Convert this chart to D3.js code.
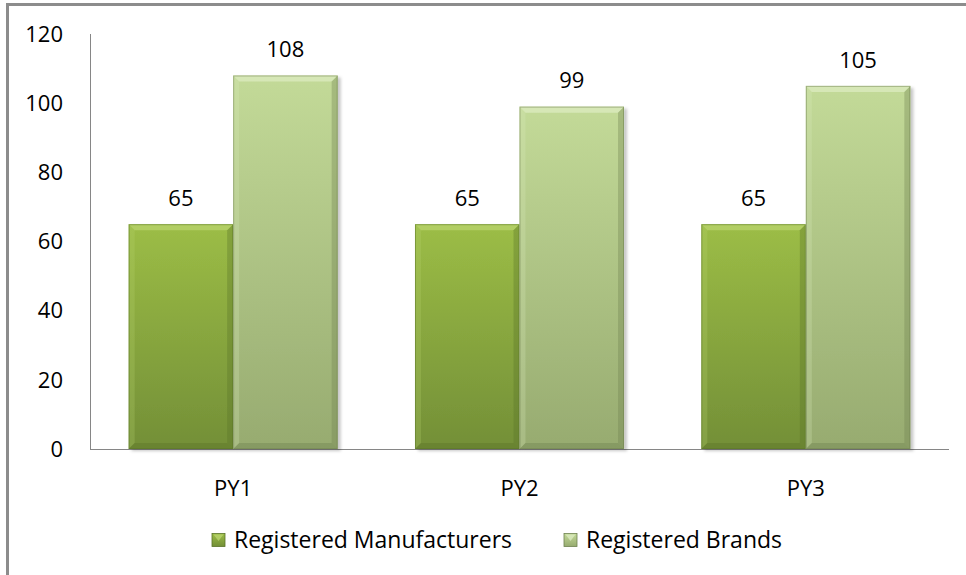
<!DOCTYPE html>
<html>
<head>
<meta charset="utf-8">
<script src="https://cdn.jsdelivr.net/npm/d3@7"></script>
<style>
  body { margin: 0; background: #fff; }
  svg { display: block; font-family: "Open Sans", Lato, sans-serif; }
</style>
</head>
<body>
<div id="chart"></div>
<script>
let w = 966;
let h = 575;

const categories = ["PY1", "PY2", "PY3"];
const seriesNames = ["Registered Manufacturers", "Registered Brands"];
const manufacturers = [65, 65, 65];
const brands = [108, 99, 105];
const yTicks = [0, 20, 40, 60, 80, 100, 120];

const data = categories.map((c, i) => ({cat: c, values: [manufacturers[i], brands[i]]}));

const svg = d3.select("#chart").append("svg")
  .attr("width", w)
  .attr("height", h);

// outer frame (only top + left visible in reference)
svg.append("path")
  .attr("d", "M7.5," + (h + 5) + " L7.5,4.5 L" + (w + 5) + ",4.5")
  .attr("fill", "none")
  .attr("stroke", "#8c8c8c")
  .attr("stroke-width", 3);

const defs = svg.append("defs");
const colors = [
  {top: "#9cbd46", bot: "#738f37", light: "#b9d46e", dark: "#5a7328"},
  {top: "#c3da98", bot: "#97ab70", light: "#dcebc0", dark: "#6f8250"}
];
colors.forEach((c, i) => {
  let g = defs.append("linearGradient").attr("id", "grad" + i)
    .attr("x1", 0).attr("y1", 0).attr("x2", 0).attr("y2", 1);
  g.append("stop").attr("offset", "0%").attr("stop-color", c.top);
  g.append("stop").attr("offset", "100%").attr("stop-color", c.bot);
});
let f = defs.append("filter").attr("id", "shadow").attr("x", "-10%").attr("y", "-10%").attr("width", "130%").attr("height", "120%");
f.append("feDropShadow").attr("dx", 3).attr("dy", 2).attr("stdDeviation", 1.5).attr("flood-color", "#000").attr("flood-opacity", 0.22);

const margin = {left: 90, right: 17, top: 34, bottom: 126};
const x0 = d3.scaleBand().domain(categories).range([margin.left, w - margin.right]).paddingInner(0.27).paddingOuter(0.135);
const x1 = d3.scaleBand().domain([0, 1]).range([0, x0.bandwidth()]);
const y = d3.scaleLinear().domain([0, 120]).range([h - margin.bottom, margin.top]);

// axes lines
svg.append("line")
  .attr("x1", margin.left + 0.5).attr("x2", margin.left + 0.5)
  .attr("y1", y(120)).attr("y2", y(0))
  .attr("stroke", "#868686");
svg.append("line")
  .attr("x1", margin.left).attr("x2", w - margin.right)
  .attr("y1", y(0) + 0.5).attr("y2", y(0) + 0.5)
  .attr("stroke", "#868686");

const fs = "22px";

// y tick labels
svg.append("g").selectAll("text").data(yTicks).enter().append("text")
  .attr("x", 63)
  .attr("y", d => y(d))
  .attr("dy", "0.35em")
  .attr("text-anchor", "end")
  .attr("font-size", fs)
  .attr("fill", "#000")
  .text(d => d);

// bars
const groups = svg.append("g").selectAll("g").data(data).enter().append("g")
  .attr("transform", d => "translate(" + x0(d.cat) + ",0)");

const bars = groups.selectAll("g.bar").data(d => d.values.map((v, i) => ({v: v, s: i}))).enter()
  .append("g").attr("class", "bar");

bars.each(function(d) {
  let g = d3.select(this);
  let bx = x1(d.s), bw = x1.bandwidth();
  let by = y(d.v), bh = y(0) - y(d.v);
  let c = colors[d.s];
  let b = 6;
  g.append("rect")
    .attr("x", bx).attr("y", by).attr("width", bw).attr("height", bh)
    .attr("fill", "url(#grad" + d.s + ")")
    .attr("filter", "url(#shadow)");
  // bevel edges
  g.append("polygon")
    .attr("points", [[bx, by], [bx + bw, by], [bx + bw - b, by + b], [bx + b, by + b]].join(" "))
    .attr("fill", c.light).attr("opacity", 0.75);
  g.append("polygon")
    .attr("points", [[bx, by], [bx + b, by + b], [bx + b, by + bh - b], [bx, by + bh]].join(" "))
    .attr("fill", c.light).attr("opacity", 0.25);
  g.append("polygon")
    .attr("points", [[bx + bw, by], [bx + bw, by + bh], [bx + bw - b, by + bh - b], [bx + bw - b, by + b]].join(" "))
    .attr("fill", c.dark).attr("opacity", 0.35);
  g.append("polygon")
    .attr("points", [[bx, by + bh], [bx + bw, by + bh], [bx + bw - b, by + bh - b], [bx + b, by + bh - b]].join(" "))
    .attr("fill", c.dark).attr("opacity", 0.4);
  g.append("rect")
    .attr("x", bx + 0.5).attr("y", by + 0.5).attr("width", bw - 1).attr("height", bh - 1)
    .attr("fill", "none").attr("stroke", c.dark).attr("stroke-opacity", 0.5);
  // value label
  g.append("text")
    .attr("x", bx + bw / 2)
    .attr("y", by - 26)
    .attr("dy", "0.35em")
    .attr("text-anchor", "middle")
    .attr("font-size", fs)
    .attr("fill", "#000")
    .text(d.v);
});

// category labels
svg.append("g").selectAll("text").data(categories).enter().append("text")
  .attr("x", d => x0(d) + x0.bandwidth() / 2)
  .attr("y", 488)
  .attr("dy", "0.35em")
  .attr("text-anchor", "middle")
  .attr("font-size", fs)
  .attr("fill", "#000")
  .text(d => d);

// legend
const legendX = [212, 564];
const legend = svg.append("g").selectAll("g").data(seriesNames).enter().append("g")
  .attr("transform", (d, i) => "translate(" + legendX[i] + ",540)");
legend.append("rect")
  .attr("x", 0).attr("y", -6.5).attr("width", 13).attr("height", 13)
  .attr("fill", (d, i) => "url(#grad" + i + ")")
  .attr("stroke", (d, i) => colors[i].dark).attr("stroke-width", 0.8);
legend.append("polygon")
  .attr("points", "1.5,-5.5 11.5,-5.5 6.5,1")
  .attr("fill", (d, i) => colors[i].light).attr("opacity", 0.8);
legend.append("text")
  .attr("x", 22)
  .attr("y", 0)
  .attr("dy", "0.35em")
  .attr("font-size", "23px")
  .attr("fill", "#000")
  .text(d => d);
</script>
</body>
</html>
